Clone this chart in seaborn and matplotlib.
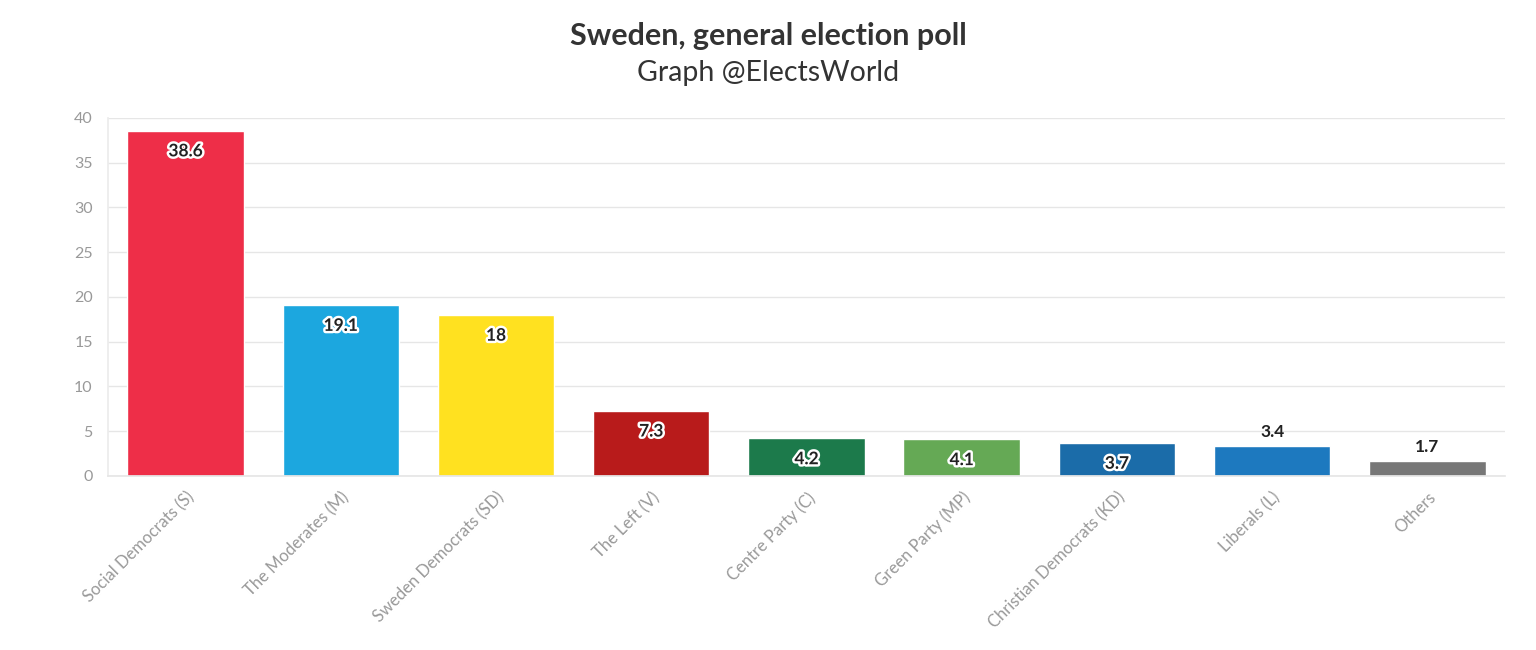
import matplotlib
matplotlib.use("Agg")
import matplotlib.pyplot as plt
import matplotlib.patheffects as pe
import seaborn as sns
import pandas as pd

# Poll data
parties = ["Social Democrats (S)", "The Moderates (M)", "Sweden Democrats (SD)",
           "The Left (V)", "Centre Party (C)", "Green Party (MP)",
           "Christian Democrats (KD)", "Liberals (L)", "Others"]
values = [38.6, 19.1, 18, 7.3, 4.2, 4.1, 3.7, 3.4, 1.7]
colors = ["#EE2E48", "#1CA7DF", "#FFE120", "#B81B1B", "#1C7A4B",
          "#65A955", "#1B6CA9", "#1D79BF", "#777777"]
labels = ["38.6", "19.1", "18", "7.3", "4.2", "4.1", "3.7", "3.4", "1.7"]

df = pd.DataFrame({"party": parties, "value": values})

sns.set_theme(style="white")
plt.rcParams["font.family"] = ["Lato", "DejaVu Sans"]

fig = plt.figure(figsize=(15.36, 6.5), dpi=100)
ax = fig.add_axes([0.0703, 0.2677, 0.9095, 0.5508])

sns.barplot(data=df, x="party", y="value", hue="party", palette=colors,
            legend=False, width=0.75, saturation=1, ax=ax)

ax.set_xlim(-0.5, 8.5)
ax.set_ylim(0, 40)
ax.set_yticks(range(0, 41, 5))
ax.yaxis.grid(True, color="#e6e6e6", linewidth=1)
ax.set_axisbelow(True)
for s in ["top", "right"]:
    ax.spines[s].set_visible(False)
ax.spines["left"].set_color("#ececec")
ax.spines["bottom"].set_color("#e6e6e6")
ax.tick_params(axis="y", length=9, color="#e6e6e6", labelcolor="#999999",
               labelsize=11.5, pad=2)
ax.tick_params(axis="x", length=6, color="#e6e6e6", labelcolor="#999999",
               labelsize=12)
ax.set_xlabel("")
ax.set_ylabel("")
plt.setp(ax.get_xticklabels(), rotation=45, ha="right", rotation_mode="anchor")

# value labels
for i, (v, t) in enumerate(zip(values, labels)):
    if v > 3.5:
        ax.annotate(t, (i, v), xytext=(0, -15), textcoords="offset points",
                    ha="center", va="center", fontsize=12.5, fontweight="bold",
                    color="#222222",
                    path_effects=[pe.withStroke(linewidth=3.5, foreground="white")])
    else:
        ax.annotate(t, (i, v), xytext=(0, 10), textcoords="offset points",
                    ha="center", va="center", fontsize=12.5, fontweight="bold",
                    color="#222222")

fig.text(0.5, 0.945, "Sweden, general election poll", ha="center", va="center",
         fontsize=22, fontweight="bold", color="#333333")
fig.text(0.5, 0.888, "Graph @ElectsWorld", ha="center", va="center",
         fontsize=20.5, color="#333333")

fig.savefig("out.png", dpi=100)
